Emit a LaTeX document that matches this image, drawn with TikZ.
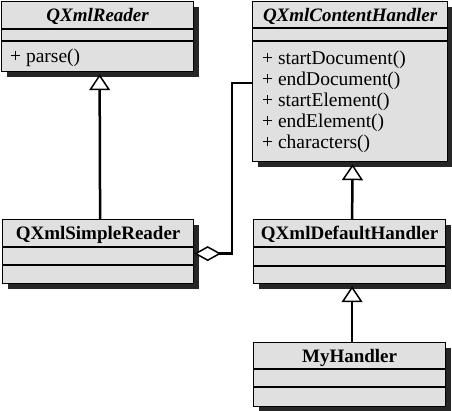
\documentclass[tikz,border=0pt]{standalone}
\usepackage{fontspec}
\setmainfont{Liberation Serif}
\usetikzlibrary{arrows.meta,shadows}
\begin{document}
\begin{tikzpicture}[x=1pt, y=-1pt,
    cls/.style={draw, line width=1.2pt, fill=black!12, anchor=north west, inner sep=0pt,
      minimum width=192pt, drop shadow={shadow xshift=5pt, shadow yshift=-5pt, fill=black!85, opacity=1}},
    title/.style={font=\fontsize{19}{21}\selectfont\bfseries},
    op/.style={anchor=west, inner sep=0pt, font=\fontsize{19.5}{21}\selectfont},
    inherit/.style={line width=2.5pt, shorten >=2pt,
      -{Triangle[open, length=16pt, width=21pt, line width=1.5pt, fill=white]}},
    aggr/.style={line width=2.5pt,
      {Diamond[open, length=27pt, width=15pt, line width=1.5pt, fill=white]}-}]
    \useasboundingbox (0,0) rectangle (452,411);

    % Klassen
    \node[cls, minimum height=70pt] (reader) at (1,1) {};
    \node[cls, minimum height=160pt, minimum width=195pt] (handler) at (252,1) {};
    \node[cls, minimum height=64pt, minimum width=191pt] (simple) at (2,219) {};
    \node[cls, minimum height=64pt] (default) at (253,219) {};
    \node[cls, minimum height=64pt] (myh) at (253,342) {};

    % Trennlinien
    \foreach \n/\a/\b in {reader/28/40, handler/27/40, simple/28/46, default/28/47, myh/27/45} {
        \draw[line width=1.2pt] ([yshift=-\a pt]\n.north west) -- ([yshift=-\a pt]\n.north east);
        \draw[line width=1.2pt] ([yshift=-\b pt]\n.north west) -- ([yshift=-\b pt]\n.north east);
    }

    % Namen
    \node[title] at ([yshift=-15.5pt]reader.north) {\itshape QXmlReader};
    \node[title] at ([yshift=-15.5pt]handler.north) {\itshape QXmlContentHandler};
    \node[title] at ([yshift=-15.5pt]simple.north) {QXmlSimpleReader};
    \node[title] at ([yshift=-15.5pt]default.north) {QXmlDefaultHandler};
    \node[title] at ([yshift=-15.5pt]myh.north) {MyHandler};

    % Methoden
    \node[op] at ([xshift=9pt, yshift=-57pt]reader.north west) {+ parse()};
    \foreach \m [count=\i] in {startDocument(), endDocument(), startElement(), endElement(), characters()}
        \node[op] at ([xshift=10pt, yshift=-38pt-21pt*\i]handler.north west) {+ \m};

    % Beziehungen
    \draw[inherit] ([xshift=2pt]simple.north) -- ([xshift=2pt]reader.south);
    \draw[inherit] ([xshift=2.5pt]default.north) -- ([xshift=2.5pt]handler.south);
    \draw[inherit] ([xshift=2.5pt]myh.north) -- ([xshift=2.5pt]default.south);
    \coordinate (hook) at ([yshift=-82pt]handler.north west);
    \draw[aggr] ([yshift=-2pt]simple.east) -- ++(38,0) |- (hook);
\end{tikzpicture}
\end{document}
